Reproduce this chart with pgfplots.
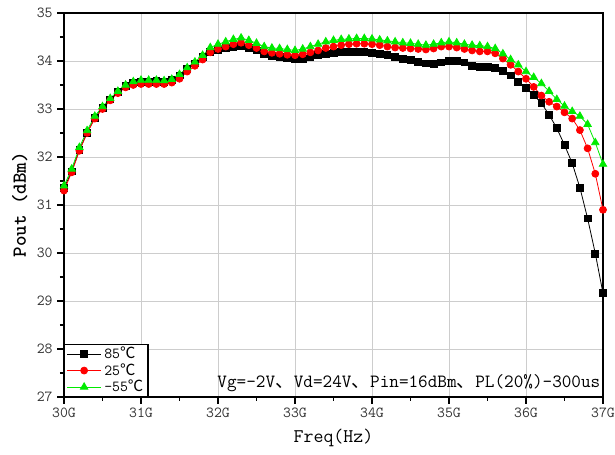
\documentclass[border=0pt]{standalone}
\usepackage{fontspec}
\newfontfamily\cjk{Noto Sans CJK SC}
\usepackage{pgfplots}
\usepackage{pgfplotstable}
\pgfplotsset{compat=1.18}
\definecolor{myred}{RGB}{255,0,0}
\definecolor{mygreen}{RGB}{0,235,0}
\definecolor{mygrid}{RGB}{205,205,205}

\pgfplotstableread{
f     b      r      g
30.0  31.35  31.30  31.40
30.1  31.70  31.68  31.75
30.2  32.15  32.13  32.20
30.3  32.50  32.50  32.55
30.4  32.82  32.80  32.85
30.5  33.02  33.00  33.05
30.6  33.20  33.18  33.22
30.7  33.36  33.33  33.37
30.8  33.48  33.45  33.50
30.9  33.55  33.50  33.57
31.0  33.57  33.52  33.60
31.1  33.57  33.52  33.60
31.2  33.58  33.52  33.60
31.3  33.57  33.52  33.59
31.4  33.60  33.55  33.62
31.5  33.70  33.63  33.72
31.6  33.83  33.78  33.86
31.7  33.95  33.90  33.98
31.8  34.08  34.03  34.12
31.9  34.18  34.18  34.28
32.0  34.23  34.25  34.35
32.1  34.27  34.30  34.40
32.2  34.30  34.35  34.45
32.3  34.32  34.38  34.48
32.4  34.28  34.33  34.43
32.5  34.22  34.27  34.37
32.6  34.15  34.20  34.30
32.7  34.10  34.17  34.27
32.8  34.08  34.15  34.26
32.9  34.07  34.13  34.24
33.0  34.05  34.12  34.22
33.1  34.04  34.14  34.25
33.2  34.08  34.18  34.30
33.3  34.12  34.22  34.35
33.4  34.15  34.27  34.40
33.5  34.17  34.30  34.43
33.6  34.18  34.33  34.45
33.7  34.19  34.35  34.46
33.8  34.19  34.36  34.47
33.9  34.18  34.36  34.47
34.0  34.17  34.35  34.46
34.1  34.15  34.33  34.44
34.2  34.12  34.30  34.42
34.3  34.08  34.28  34.40
34.4  34.05  34.27  34.38
34.5  34.03  34.26  34.37
34.6  33.98  34.25  34.35
34.7  33.95  34.24  34.33
34.8  33.93  34.26  34.35
34.9  33.97  34.30  34.38
35.0  34.00  34.30  34.40
35.1  34.00  34.28  34.38
35.2  33.97  34.25  34.35
35.3  33.90  34.22  34.33
35.4  33.88  34.20  34.32
35.5  33.88  34.20  34.30
35.6  33.86  34.16  34.26
35.7  33.80  34.05  34.15
35.8  33.70  33.92  34.03
35.9  33.57  33.78  33.92
36.0  33.43  33.63  33.78
36.1  33.29  33.46  33.66
36.2  33.12  33.28  33.53
36.3  32.88  33.15  33.37
36.4  32.60  33.05  33.20
36.5  32.25  32.93  33.06
36.6  31.87  32.80  32.95
36.7  31.36  32.56  32.85
36.8  30.72  32.18  32.68
36.9  29.99  31.65  32.30
37.0  29.16  30.90  31.85
}\datatable

\begin{document}
\ttfamily
\begin{tikzpicture}
\begin{axis}[
  name=ax,
  scale only axis,
  width=404.25pt, height=288pt,
  xmin=30, xmax=37, ymin=27, ymax=35,
  xtick={30,31,32,33,34,35,36,37},
  xticklabels={30G,31G,32G,33G,34G,35G,36G,37G},
  ytick={27,28,29,30,31,32,33,34,35},
  minor x tick num=1, minor y tick num=1,
  tick pos=left,
  tick align=outside,
  major tick length=5pt, minor tick length=3pt,
  tick style={black, line width=0.8pt},
  grid=major,
  major grid style={mygrid, line width=0.7pt},
  axis line style={line width=1.3pt, black},
  /pgf/number format/assume math mode=true,
  ticklabel style={font=\ttfamily\fontsize{11.5}{13}\selectfont, text=black!80},
  xlabel={Freq(Hz)},
  ylabel={\bfseries Pout (dBm)},
  xlabel style={font=\ttfamily\fontsize{14.5}{16}\selectfont, at={(axis description cs:0.5,-0.107)}, anchor=center},
  ylabel style={font=\ttfamily\fontsize{15}{17}\selectfont, at={(axis description cs:-0.082,0.5)}, anchor=center},
  legend style={at={(axis description cs:0,0)}, anchor=south west, draw=black, line width=1pt,
    font=\ttfamily\fontsize{11.5}{12.5}\selectfont, row sep=1.5pt, inner sep=1.5pt, fill=white,
    nodes={inner ysep=0.3pt}},
  legend cell align=left,
  legend image code/.code={\draw[mark repeat=2,mark phase=2] plot coordinates {(0cm,0cm) (0.45cm,0cm) (0.9cm,0cm)};},
]
\addplot[black, line width=0.6pt, mark=square*, mark size=2.6pt, mark options={solid}] table[x=f,y=b] {\datatable};
\addlegendentry{85{\cjk ℃}}
\addplot[myred, line width=0.6pt, mark=*, mark size=2.6pt] table[x=f,y=r] {\datatable};
\addlegendentry{25{\cjk ℃}}
\addplot[mygreen, line width=0.6pt, mark=triangle*, mark size=3.2pt] table[x=f,y=g] {\datatable};
\addlegendentry{-55{\cjk ℃}}
\node[anchor=south east, font=\ttfamily\fontsize{14}{16}\selectfont, inner sep=1pt] at (rel axis cs:0.998,0.010) {Vg=-2V{\cjk 、}Vd=24V{\cjk 、}Pin=16dBm{\cjk 、}PL(20\%)-300us};
\end{axis}
\pgfresetboundingbox
\path ([shift={(-48pt,-43.5pt)}]ax.south west) rectangle ([shift={(9pt,9.75pt)}]ax.north east);
\end{tikzpicture}
\end{document}
